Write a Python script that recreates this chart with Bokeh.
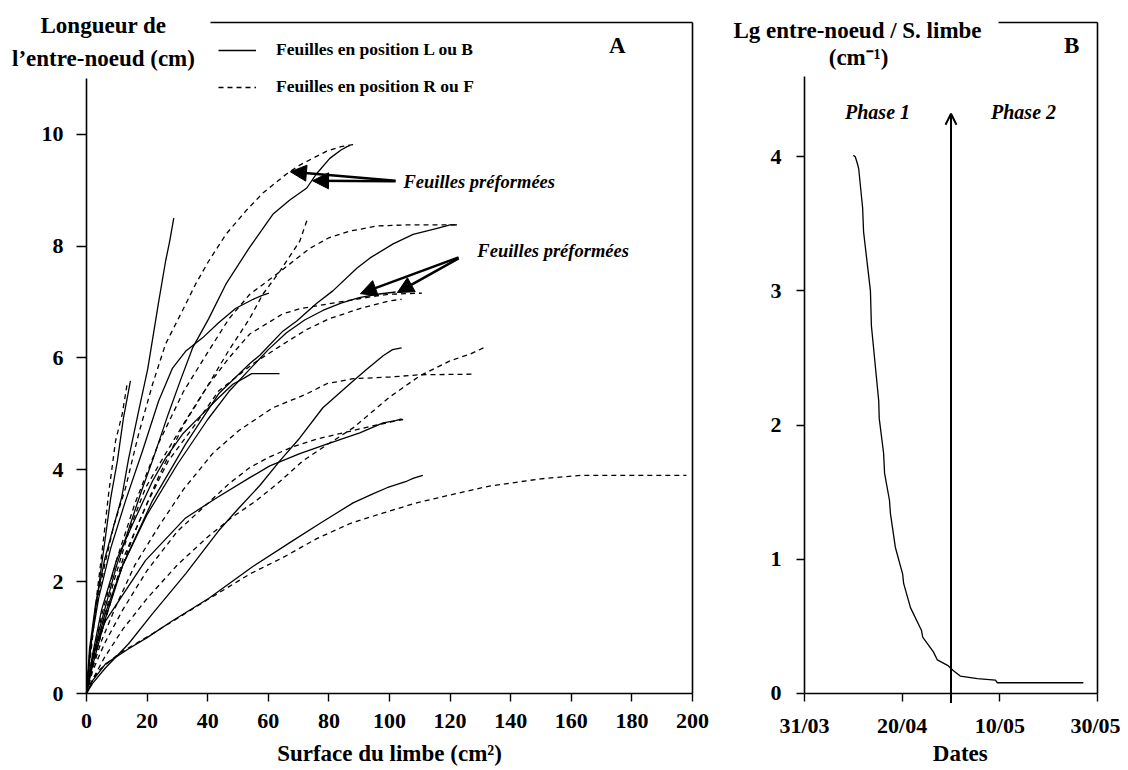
from bokeh.plotting import figure
from bokeh.models import (Range1d, LinearAxis, FixedTicker, Label, Arrow,
                          NormalHead, OpenHead, Legend, LegendItem)
from bokeh.layouts import row
from bokeh.embed import file_html
from bokeh.resources import INLINE

# ---------------- Panel A data: leaf area (cm2) vs internode length (cm) ----
# Solid curves: leaves in position L or B
L1_x = [0, 1, 3, 6, 9, 11.6, 13.9, 17.2, 20.2, 22, 23.8, 26.1, 27.5, 28.8]
L1_y = [0, 0.8, 1.6, 2.4, 3.0, 3.5, 4.2, 5.05, 5.8, 6.4, 7.0, 7.73, 8.1, 8.5]
L2_x = [0, 2, 4, 7, 10, 14, 18, 22, 27, 31, 35, 40.3, 46, 53.6, 61.5, 67, 72.7, 76, 80.3, 84, 86, 87]
L2_y = [0, 0.6, 1.1, 1.7, 2.3, 2.95, 3.6, 4.2, 5.0, 5.6, 6.18, 6.7, 7.32, 7.96, 8.57, 8.82, 9.04, 9.3, 9.57, 9.72, 9.78, 9.8]
L3_x = [0, 2, 6, 12, 21.8, 32.7, 43.6, 53.9, 57.2, 64.8, 69.4, 76, 81.3, 89.3, 93.6, 101.2, 107.8, 115.7, 120, 122.3]
L3_y = [0, 0.5, 1.3, 2.3, 3.45, 4.46, 5.36, 5.9, 6.05, 6.48, 6.66, 6.98, 7.2, 7.61, 7.79, 8.04, 8.21, 8.32, 8.38, 8.38]
L4_x = [0, 1.5, 4, 8, 12.9, 18.5, 23.8, 28.4, 32.7, 38.3, 43.6, 49.3, 55, 58, 60.2]
L4_y = [0, 0.9, 1.7, 2.6, 3.45, 4.34, 5.23, 5.82, 6.12, 6.36, 6.63, 6.89, 7.05, 7.12, 7.16]
L5_x = [0, 2, 6, 12, 20, 30, 40, 47, 53.9, 60, 66, 72, 78, 84, 90, 96, 102]
L5_y = [0, 0.6, 1.4, 2.3, 3.2, 4.1, 4.9, 5.4, 5.8, 6.15, 6.45, 6.68, 6.85, 6.98, 7.08, 7.14, 7.18]
L6_x = [0, 2, 5, 10, 15, 21.8, 26.1, 31.7, 38.3, 43.6, 48.3, 52, 54.5, 63.7]
L6_y = [0, 0.7, 1.5, 2.4, 3.0, 3.8, 4.21, 4.64, 5.0, 5.29, 5.53, 5.64, 5.72, 5.72]
L7_x = [0, 2, 6.3, 13.9, 21.8, 32.7, 43.6, 50, 57.2, 63.8, 70.4, 78, 88, 92.5, 97.9, 101, 104]
L7_y = [0, 0.18, 0.46, 0.89, 1.43, 2.14, 2.91, 3.3, 3.72, 4.16, 4.57, 5.11, 5.59, 5.8, 6.04, 6.15, 6.18]
L8_x = [0, 1, 3, 6.3, 12.9, 19.5, 32.7, 43, 53.9, 60.5, 70.4, 79.3, 90.2, 97.9, 102, 104]
L8_y = [0, 0.4, 0.85, 1.3, 1.84, 2.38, 3.14, 3.5, 3.86, 4.07, 4.29, 4.46, 4.66, 4.84, 4.88, 4.91]
L9_x = [0, 2, 6.3, 13.9, 20, 28.4, 40.3, 54.9, 68, 77, 88, 94.5, 99.2, 105.8, 108, 111]
L9_y = [0, 0.23, 0.53, 0.8, 1.0, 1.3, 1.7, 2.27, 2.73, 3.04, 3.41, 3.57, 3.68, 3.8, 3.85, 3.9]
L10_x = [0, 1, 2, 4, 6, 8, 10.2, 12.2, 13.5, 14.5]
L10_y = [0, 0.6, 1.1, 1.9, 2.7, 3.5, 4.16, 4.93, 5.3, 5.59]

# Dashed curves: leaves in position R or F
R1_x = [0, 1, 3, 6, 9, 12.9, 17.2, 21.8, 26.1, 31.7, 36, 40.3, 46, 52.6, 58.2, 66, 70.4, 79.3, 84, 88.5]
R1_y = [0, 0.7, 1.5, 2.3, 3.0, 3.68, 4.64, 5.53, 6.25, 6.85, 7.32, 7.73, 8.21, 8.63, 8.95, 9.29, 9.45, 9.7, 9.78, 9.82]
R2_x = [0, 2, 5, 9, 14, 19.5, 26.1, 32.7, 40.3, 46.9, 53.9, 58.2, 63.8, 70.4, 73]
R2_y = [0, 0.5, 1.2, 2.0, 2.9, 3.68, 4.29, 4.88, 5.53, 6.13, 6.71, 7.14, 7.55, 8.09, 8.5]
R3_x = [0, 2, 5, 10, 16, 24, 32, 40, 47, 53.9, 62.8, 73.7, 80, 87, 95.8, 105, 122.3]
R3_y = [0, 0.6, 1.4, 2.4, 3.4, 4.5, 5.4, 6.1, 6.7, 7.14, 7.5, 7.96, 8.15, 8.27, 8.36, 8.38, 8.38]
R4_x = [0, 2, 5, 10, 16, 24, 32, 40, 47, 53.9, 64.8, 70.4, 81.3, 94.5, 100, 110.7]
R4_y = [0, 0.5, 1.1, 2.0, 2.9, 3.9, 4.8, 5.5, 6.0, 6.43, 6.79, 6.88, 6.98, 7.1, 7.14, 7.16]
R5_x = [0, 2, 6, 12, 20, 30, 40, 48, 56.1, 64, 71.4, 80, 88, 100, 110, 120, 126.6, 131]
R5_y = [0, 0.25, 0.65, 1.15, 1.7, 2.3, 2.8, 3.15, 3.45, 3.8, 4.16, 4.47, 4.75, 5.3, 5.68, 5.95, 6.07, 6.18]
R6_x = [0, 2, 5, 10, 16, 24, 32, 41.6, 50.2, 61.5, 72.4, 79.3, 88, 100.2, 110, 127.3]
R6_y = [0, 0.45, 0.95, 1.6, 2.3, 3.0, 3.65, 4.29, 4.7, 5.11, 5.35, 5.54, 5.63, 5.66, 5.7, 5.71]
R7_x = [0, 2, 6, 12, 20, 30, 40, 47, 53.9, 60, 68, 76, 84.6, 94, 102.5, 104.5]
R7_y = [0, 0.4, 0.9, 1.5, 2.2, 2.9, 3.4, 3.75, 4.04, 4.22, 4.41, 4.55, 4.66, 4.78, 4.88, 4.9]
R8_x = [0, 1, 4, 10.6, 21.8, 40, 54, 64.8, 76, 87, 98, 109, 120, 133, 150, 163, 198]
R8_y = [0, 0.15, 0.41, 0.71, 1.07, 1.68, 2.14, 2.43, 2.77, 3.04, 3.23, 3.41, 3.55, 3.71, 3.84, 3.9, 3.9]
R9_x = [0, 1, 2, 3.5, 5.5, 7.3, 9.6, 11.8, 13.4]
R9_y = [0, 0.5, 1.0, 1.8, 2.7, 3.57, 4.52, 5.0, 5.53]
R10_x = [0, 2, 6, 12, 20, 27, 36, 43.6, 55, 65, 72.4, 80, 90, 100, 104]
R10_y = [0, 0.5, 1.3, 2.4, 3.4, 4.16, 4.82, 5.41, 5.9, 6.25, 6.5, 6.7, 6.88, 7.02, 7.05]

A_XTICKS = [0, 20, 40, 60, 80, 100, 120, 140, 160, 180, 200]
A_YTICKS = [0, 2, 4, 6, 8, 10]

# ---------------- Panel B data: ratio vs date (days after 31/03) -----------
B_day = [10.0, 10.4, 10.9, 11.1, 11.9, 12.1, 13.5, 13.7, 15.2, 15.3, 16.2, 16.4, 17.4, 17.6,
         18.6, 20.1, 20.3, 21.7, 23.96, 24.2, 26.4, 27.2, 29.3, 30.5, 31.9, 35.4, 39.1, 39.5, 57.1]
B_ratio = [4.01, 4.0, 3.94, 3.91, 3.62, 3.44, 3.0, 2.74, 2.18, 2.05, 1.79, 1.64, 1.44, 1.34,
           1.09, 0.89, 0.82, 0.64, 0.47, 0.42, 0.31, 0.25, 0.21, 0.17, 0.13, 0.11, 0.10, 0.08, 0.08]
B_XTICKS = [0, 20, 40, 60]
B_XLABELS = ["31/03", "20/04", "10/05", "30/05"]
B_YTICKS = [0, 1, 2, 3, 4]
PHASE_SPLIT_DAY = 30  # 30/04

SOLID = [(L1_x, L1_y), (L2_x, L2_y), (L3_x, L3_y), (L4_x, L4_y), (L5_x, L5_y),
         (L6_x, L6_y), (L7_x, L7_y), (L8_x, L8_y), (L9_x, L9_y), (L10_x, L10_y)]
DASHED = [(R1_x, R1_y), (R2_x, R2_y), (R3_x, R3_y), (R4_x, R4_y), (R5_x, R5_y),
          (R6_x, R6_y), (R7_x, R7_y), (R8_x, R8_y), (R9_x, R9_y), (R10_x, R10_y)]

FONT = "Liberation Serif"
HEIGHT = 768


def make_axis(ticks, tick_out, loc, bounds, standoff, overrides=None):
    ax = LinearAxis(ticker=FixedTicker(ticks=ticks), fixed_location=loc, bounds=bounds,
                    axis_line_color="black", axis_line_width=1.6,
                    major_tick_line_color="black", major_tick_line_width=1.4,
                    major_tick_out=tick_out, major_tick_in=0, minor_tick_line_color=None,
                    major_label_text_font=FONT, major_label_text_font_style="bold",
                    major_label_text_font_size="22px", major_label_text_color="black",
                    major_label_standoff=standoff)
    if overrides:
        ax.major_label_overrides = overrides
    return ax


def border_axis(loc, bounds):
    return LinearAxis(ticker=FixedTicker(ticks=[]), fixed_location=loc, bounds=bounds,
                      major_tick_out=0, major_tick_in=0, major_label_text_font_size="0px",
                      major_label_standoff=0, axis_line_width=1.6, axis_line_color="black",
                      minor_tick_line_color=None)


def lab(p, x, y, text, size="23px", style="bold", align="center"):
    p.add_layout(Label(x=x, y=y, text=text, text_font=FONT, text_font_style=style,
                       text_font_size=size, text_align=align, text_baseline="middle",
                       text_color="black"))


def base_fig(width, xr, yr):
    p = figure(width=width, height=HEIGHT, x_range=xr, y_range=yr,
               x_axis_location=None, y_axis_location=None,
               output_backend="svg", toolbar_location=None, min_border=0)
    p.grid.visible = False
    p.outline_line_color = None
    p.background_fill_color = "white"
    p.border_fill_color = "white"
    return p


# ---------------- Panel A ----------------
pa = base_fig(714, Range1d(-28.38, 207.26), Range1d(-1.341, 12.393))
pa.add_layout(make_axis(A_XTICKS, 8, 0, (0, 200), 12), "below")
pa.add_layout(make_axis(A_YTICKS, 10, 0, (0, 11), 13), "left")
pa.add_layout(border_axis(200, (0, 12)), "right")
pa.add_layout(border_axis(12, (41, 200)), "above")

solid_r = [pa.line(x, y, line_color="black", line_width=1.3) for x, y in SOLID]
dashed_r = [pa.line(x, y, line_color="black", line_width=1.3, line_dash="5 4") for x, y in DASHED]

leg = Legend(items=[LegendItem(label="Feuilles en position L ou B", renderers=[solid_r[0]]),
                    LegendItem(label="Feuilles en position R ou F", renderers=[dashed_r[0]])],
             location=(218, 671), orientation="vertical", border_line_color=None,
             background_fill_alpha=0, padding=0, margin=0, spacing=16,
             glyph_width=38, glyph_height=20, label_height=20, label_standoff=20,
             label_text_font=FONT, label_text_font_style="bold", label_text_font_size="17.5px",
             label_text_color="black")
pa.add_layout(leg)

lab(pa, 5.6, 11.95, "Longueur de")
lab(pa, 5.6, 11.36, "l\u2019entre-noeud (cm)")
lab(pa, 175.2, 11.59, "A")
lab(pa, 100, -1.07, "Surface du limbe (cm\u00b2)")
lab(pa, 104.6, 9.14, "Feuilles préformées", size="18.5px", style="bold italic", align="left")
lab(pa, 129.0, 7.92, "Feuilles préformées", size="18.5px", style="bold italic", align="left")

for xs, ys, xe, ye in [(102.0, 9.17, 67.3, 9.33), (102.0, 9.16, 74.6, 9.17),
                       (122.8, 7.80, 90.4, 7.15), (122.8, 7.78, 102.6, 7.17)]:
    pa.add_layout(Arrow(end=NormalHead(size=16, fill_color="black", line_color="black"),
                        x_start=xs, y_start=ys, x_end=xe, y_end=ye,
                        line_width=2.5, line_color="black"))

# ---------------- Panel B ----------------
pb = base_fig(406, Range1d(-18.43, 64.71), Range1d(-0.559, 5.164))
pb.add_layout(make_axis(B_XTICKS, 8, 0, (0, 60), 12,
                        overrides={t: s for t, s in zip(B_XTICKS, B_XLABELS)}), "below")
pb.add_layout(make_axis(B_YTICKS, 8, 0, (0, 4.6), 15), "left")
pb.add_layout(border_axis(60, (0, 5)), "right")
pb.add_layout(border_axis(5, (39.7, 60)), "above")

pb.line(B_day, B_ratio, line_color="black", line_width=1.3)

pb.add_layout(Arrow(end=OpenHead(size=11, line_width=2, line_color="black"),
                    x_start=PHASE_SPLIT_DAY, y_start=-0.07, x_end=PHASE_SPLIT_DAY, y_end=4.32,
                    line_width=2, line_color="black"))

lab(pb, 10.85, 4.94, "Lg entre-noeud / S. limbe")
lab(pb, 11.06, 4.74, "(cm\u207b\u00b9)")
lab(pb, 54.7, 4.83, "B")
lab(pb, 31.9, -0.447, "Dates")
lab(pb, 14.95, 4.33, "Phase 1", size="20px", style="bold italic")
lab(pb, 44.85, 4.33, "Phase 2", size="20px", style="bold italic")

layout = row(pa, pb)
open("out.html", "w").write(file_html(layout, INLINE))
